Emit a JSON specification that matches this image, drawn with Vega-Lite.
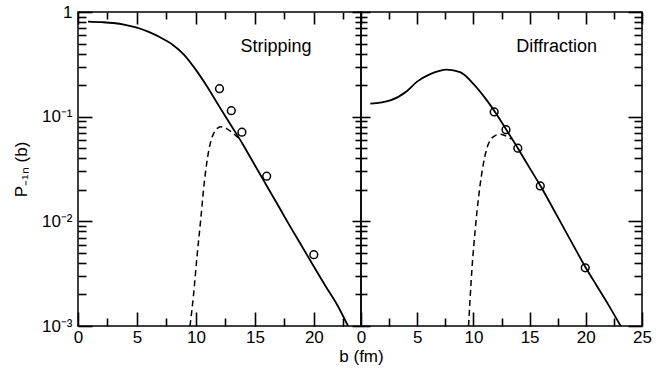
{
  "$schema": "https://vega.github.io/schema/vega-lite/v6.json",
  "padding": {"left": 11, "top": 2, "right": 0, "bottom": 0},
  "config": {
    "font": "Liberation Sans",
    "view": {"stroke": "black", "strokeWidth": 1.5},
    "axis": {"domain": false, "grid": false, "tickColor": "black", "tickWidth": 1.6, "labelColor": "black", "labelFontSize": 17, "labelFont": "Liberation Sans", "labelFlush": false, "labelOverlap": false, "titleColor": "black", "titleFontSize": 17, "titleFontWeight": "normal", "titleFont": "Liberation Sans"}
  },
  "data": {"values": [
    {"panel": "Stripping", "series": "solid", "b": 0.85, "p": 0.81},
    {"panel": "Stripping", "series": "solid", "b": 2, "p": 0.80},
    {"panel": "Stripping", "series": "solid", "b": 3, "p": 0.785},
    {"panel": "Stripping", "series": "solid", "b": 4, "p": 0.755},
    {"panel": "Stripping", "series": "solid", "b": 5, "p": 0.71},
    {"panel": "Stripping", "series": "solid", "b": 6, "p": 0.645},
    {"panel": "Stripping", "series": "solid", "b": 7, "p": 0.57},
    {"panel": "Stripping", "series": "solid", "b": 8, "p": 0.49},
    {"panel": "Stripping", "series": "solid", "b": 9, "p": 0.39},
    {"panel": "Stripping", "series": "solid", "b": 10, "p": 0.28},
    {"panel": "Stripping", "series": "solid", "b": 11, "p": 0.19},
    {"panel": "Stripping", "series": "solid", "b": 12, "p": 0.124},
    {"panel": "Stripping", "series": "solid", "b": 13, "p": 0.082},
    {"panel": "Stripping", "series": "solid", "b": 14, "p": 0.054},
    {"panel": "Stripping", "series": "solid", "b": 15, "p": 0.0343},
    {"panel": "Stripping", "series": "solid", "b": 16, "p": 0.0219},
    {"panel": "Stripping", "series": "solid", "b": 17, "p": 0.014},
    {"panel": "Stripping", "series": "solid", "b": 18, "p": 0.0089},
    {"panel": "Stripping", "series": "solid", "b": 19, "p": 0.00575},
    {"panel": "Stripping", "series": "solid", "b": 20, "p": 0.0037},
    {"panel": "Stripping", "series": "solid", "b": 21, "p": 0.0024},
    {"panel": "Stripping", "series": "solid", "b": 22, "p": 0.00158},
    {"panel": "Stripping", "series": "solid", "b": 22.9, "p": 0.001},
    {"panel": "Stripping", "series": "dashed", "b": 9.5, "p": 0.001},
    {"panel": "Stripping", "series": "dashed", "b": 9.8, "p": 0.002},
    {"panel": "Stripping", "series": "dashed", "b": 10.1, "p": 0.0047},
    {"panel": "Stripping", "series": "dashed", "b": 10.4, "p": 0.0102},
    {"panel": "Stripping", "series": "dashed", "b": 10.7, "p": 0.023},
    {"panel": "Stripping", "series": "dashed", "b": 11.1, "p": 0.048},
    {"panel": "Stripping", "series": "dashed", "b": 11.5, "p": 0.069},
    {"panel": "Stripping", "series": "dashed", "b": 12.1, "p": 0.080},
    {"panel": "Stripping", "series": "dashed", "b": 12.6, "p": 0.077},
    {"panel": "Stripping", "series": "dashed", "b": 13.1, "p": 0.07},
    {"panel": "Stripping", "series": "dashed", "b": 13.6, "p": 0.063},
    {"panel": "Stripping", "series": "data", "b": 12, "p": 0.185},
    {"panel": "Stripping", "series": "data", "b": 13, "p": 0.114},
    {"panel": "Stripping", "series": "data", "b": 13.9, "p": 0.071},
    {"panel": "Stripping", "series": "data", "b": 16, "p": 0.027},
    {"panel": "Stripping", "series": "data", "b": 20, "p": 0.0048},
    {"panel": "Stripping", "series": "label", "b": 16.8, "p": 0.46, "text": "Stripping"},
    {"panel": "Diffraction", "series": "solid", "b": 0.83, "p": 0.133},
    {"panel": "Diffraction", "series": "solid", "b": 2.6, "p": 0.143},
    {"panel": "Diffraction", "series": "solid", "b": 4.07, "p": 0.175},
    {"panel": "Diffraction", "series": "solid", "b": 4.96, "p": 0.215},
    {"panel": "Diffraction", "series": "solid", "b": 6.16, "p": 0.255},
    {"panel": "Diffraction", "series": "solid", "b": 7.64, "p": 0.282},
    {"panel": "Diffraction", "series": "solid", "b": 8.82, "p": 0.266},
    {"panel": "Diffraction", "series": "solid", "b": 10.0, "p": 0.206},
    {"panel": "Diffraction", "series": "solid", "b": 11.2, "p": 0.143},
    {"panel": "Diffraction", "series": "solid", "b": 12, "p": 0.108},
    {"panel": "Diffraction", "series": "solid", "b": 13, "p": 0.073},
    {"panel": "Diffraction", "series": "solid", "b": 14, "p": 0.049},
    {"panel": "Diffraction", "series": "solid", "b": 15, "p": 0.0324},
    {"panel": "Diffraction", "series": "solid", "b": 16, "p": 0.0215},
    {"panel": "Diffraction", "series": "solid", "b": 17, "p": 0.0138},
    {"panel": "Diffraction", "series": "solid", "b": 18, "p": 0.0088},
    {"panel": "Diffraction", "series": "solid", "b": 19, "p": 0.0056},
    {"panel": "Diffraction", "series": "solid", "b": 20, "p": 0.0036},
    {"panel": "Diffraction", "series": "solid", "b": 21, "p": 0.0024},
    {"panel": "Diffraction", "series": "solid", "b": 22, "p": 0.0016},
    {"panel": "Diffraction", "series": "solid", "b": 23.1, "p": 0.001},
    {"panel": "Diffraction", "series": "dashed", "b": 9.57, "p": 0.001},
    {"panel": "Diffraction", "series": "dashed", "b": 9.87, "p": 0.0035},
    {"panel": "Diffraction", "series": "dashed", "b": 10.16, "p": 0.0083},
    {"panel": "Diffraction", "series": "dashed", "b": 10.46, "p": 0.017},
    {"panel": "Diffraction", "series": "dashed", "b": 10.9, "p": 0.036},
    {"panel": "Diffraction", "series": "dashed", "b": 11.34, "p": 0.055},
    {"panel": "Diffraction", "series": "dashed", "b": 11.94, "p": 0.066},
    {"panel": "Diffraction", "series": "dashed", "b": 12.38, "p": 0.068},
    {"panel": "Diffraction", "series": "dashed", "b": 12.8, "p": 0.066},
    {"panel": "Diffraction", "series": "dashed", "b": 13.4, "p": 0.061},
    {"panel": "Diffraction", "series": "data", "b": 11.85, "p": 0.111},
    {"panel": "Diffraction", "series": "data", "b": 12.9, "p": 0.075},
    {"panel": "Diffraction", "series": "data", "b": 13.95, "p": 0.050},
    {"panel": "Diffraction", "series": "data", "b": 15.95, "p": 0.0218},
    {"panel": "Diffraction", "series": "data", "b": 19.95, "p": 0.0036},
    {"panel": "Diffraction", "series": "label", "b": 17.4, "p": 0.466, "text": "Diffraction"}
  ]},
  "spacing": 0,
  "bounds": "flush",
  "hconcat": [
    {
      "width": 283, "height": 314,
      "transform": [{"filter": "datum.panel == 'Stripping'"}],
      "layer": [
        {
          "transform": [{"filter": "datum.series == 'solid'"}],
          "mark": {"type": "line", "color": "black", "strokeWidth": 1.8, "clip": true, "interpolate": "monotone"},
          "encoding": {
            "x": {"field": "b", "type": "quantitative", "scale": {"domain": [0, 24], "nice": false, "zero": false},
              "axis": {"orient": "bottom", "values": [0, 5, 10, 15, 20], "tickSize": -14,
                "labelPadding": 17, "title": "b (fm)", "titleX": 283, "titleY": 35, "titleBaseline": "alphabetic", "titleAlign": "center"}},
            "y": {"field": "p", "type": "quantitative", "scale": {"type": "log", "domain": [0.001, 1], "nice": false},
              "axis": {"orient": "left", "values": [0.001, 0.01, 0.1, 1], "tickSize": -14,
                "labelExpr": "datum.value == 1 ? '1' : datum.value == 0.1 ? '10⁻¹' : datum.value == 0.01 ? '10⁻²' : '10⁻³'",
                "labelPadding": 20, "title": "P₋₁ₙ (b)", "titleX": -57, "titleBaseline": "middle"}}
          }
        },
        {
          "transform": [{"filter": "datum.series == 'dashed'"}],
          "mark": {"type": "line", "color": "black", "strokeWidth": 1.5, "strokeDash": [6, 4], "clip": true, "interpolate": "monotone"},
          "encoding": {
            "x": {"field": "b", "type": "quantitative", "scale": {"domain": [0, 24], "nice": false, "zero": false},
              "axis": {"orient": "top", "values": [0, 5, 10, 15, 20], "tickSize": -12, "labels": false, "title": null}},
            "y": {"field": "p", "type": "quantitative", "scale": {"type": "log", "domain": [0.001, 1], "nice": false},
              "axis": {"orient": "right", "values": [0.001, 0.01, 0.1, 1], "tickSize": -9, "labels": false, "title": null}}
          }
        },
        {
          "transform": [{"filter": "datum.series == 'data'"}],
          "mark": {"type": "point", "shape": "circle", "filled": false, "size": 60, "color": "black", "strokeWidth": 1.5, "opacity": 1},
          "encoding": {
            "x": {"field": "b", "type": "quantitative",
              "axis": {"orient": "bottom", "values": [2.5, 7.5, 12.5, 17.5, 22.5], "tickSize": -8, "labels": false, "title": null}},
            "y": {"field": "p", "type": "quantitative", "scale": {"type": "log"},
              "axis": {"orient": "left", "values": [0.002,0.003,0.004,0.005,0.006,0.007,0.008,0.009,0.02,0.03,0.04,0.05,0.06,0.07,0.08,0.09,0.2,0.3,0.4,0.5,0.6,0.7,0.8,0.9], "tickSize": -8, "labels": false, "title": null}}
          }
        },
        {
          "transform": [{"filter": "datum.series == 'label'"}],
          "mark": {"type": "text", "fontSize": 18, "color": "black", "font": "Liberation Sans"},
          "encoding": {
            "x": {"field": "b", "type": "quantitative",
              "axis": {"orient": "top", "values": [2.5, 7.5, 12.5, 17.5, 22.5], "tickSize": -7, "labels": false, "title": null}},
            "y": {"field": "p", "type": "quantitative", "scale": {"type": "log"},
              "axis": {"orient": "right", "values": [0.002,0.003,0.004,0.005,0.006,0.007,0.008,0.009,0.02,0.03,0.04,0.05,0.06,0.07,0.08,0.09,0.2,0.3,0.4,0.5,0.6,0.7,0.8,0.9], "tickSize": -6, "labels": false, "title": null}},
            "text": {"field": "text"}
          }
        }
      ],
      "resolve": {"axis": {"x": "independent", "y": "independent"}}
    },
    {
      "width": 281, "height": 314,
      "transform": [{"filter": "datum.panel == 'Diffraction'"}],
      "layer": [
        {
          "transform": [{"filter": "datum.series == 'solid'"}],
          "mark": {"type": "line", "color": "black", "strokeWidth": 1.8, "clip": true, "interpolate": "monotone"},
          "encoding": {
            "x": {"field": "b", "type": "quantitative", "scale": {"domain": [0, 25], "nice": false, "zero": false},
              "axis": {"orient": "bottom", "values": [0, 5, 10, 15, 20, 25], "tickSize": -14, "labelPadding": 17, "title": null}},
            "y": {"field": "p", "type": "quantitative", "scale": {"type": "log", "domain": [0.001, 1], "nice": false},
              "axis": {"orient": "left", "values": [0.001, 0.01, 0.1, 1], "tickSize": -9, "labels": false, "title": null}}
          }
        },
        {
          "transform": [{"filter": "datum.series == 'dashed'"}],
          "mark": {"type": "line", "color": "black", "strokeWidth": 1.5, "strokeDash": [6, 4], "clip": true, "interpolate": "monotone"},
          "encoding": {
            "x": {"field": "b", "type": "quantitative", "scale": {"domain": [0, 25], "nice": false, "zero": false},
              "axis": {"orient": "top", "values": [0, 5, 10, 15, 20, 25], "tickSize": -12, "labels": false, "title": null}},
            "y": {"field": "p", "type": "quantitative", "scale": {"type": "log", "domain": [0.001, 1], "nice": false},
              "axis": {"orient": "right", "values": [0.001, 0.01, 0.1, 1], "tickSize": -14, "labels": false, "title": null}}
          }
        },
        {
          "transform": [{"filter": "datum.series == 'data'"}],
          "mark": {"type": "point", "shape": "circle", "filled": false, "size": 60, "color": "black", "strokeWidth": 1.5, "opacity": 1},
          "encoding": {
            "x": {"field": "b", "type": "quantitative",
              "axis": {"orient": "bottom", "values": [2.5, 7.5, 12.5, 17.5, 22.5], "tickSize": -8, "labels": false, "title": null}},
            "y": {"field": "p", "type": "quantitative", "scale": {"type": "log"},
              "axis": {"orient": "left", "values": [0.002,0.003,0.004,0.005,0.006,0.007,0.008,0.009,0.02,0.03,0.04,0.05,0.06,0.07,0.08,0.09,0.2,0.3,0.4,0.5,0.6,0.7,0.8,0.9], "tickSize": -6, "labels": false, "title": null}}
          }
        },
        {
          "transform": [{"filter": "datum.series == 'label'"}],
          "mark": {"type": "text", "fontSize": 18, "color": "black", "font": "Liberation Sans"},
          "encoding": {
            "x": {"field": "b", "type": "quantitative",
              "axis": {"orient": "top", "values": [2.5, 7.5, 12.5, 17.5, 22.5], "tickSize": -7, "labels": false, "title": null}},
            "y": {"field": "p", "type": "quantitative", "scale": {"type": "log"},
              "axis": {"orient": "right", "values": [0.002,0.003,0.004,0.005,0.006,0.007,0.008,0.009,0.02,0.03,0.04,0.05,0.06,0.07,0.08,0.09,0.2,0.3,0.4,0.5,0.6,0.7,0.8,0.9], "tickSize": -8, "labels": false, "title": null}},
            "text": {"field": "text"}
          }
        }
      ],
      "resolve": {"axis": {"x": "independent", "y": "independent"}}
    }
  ]
}
